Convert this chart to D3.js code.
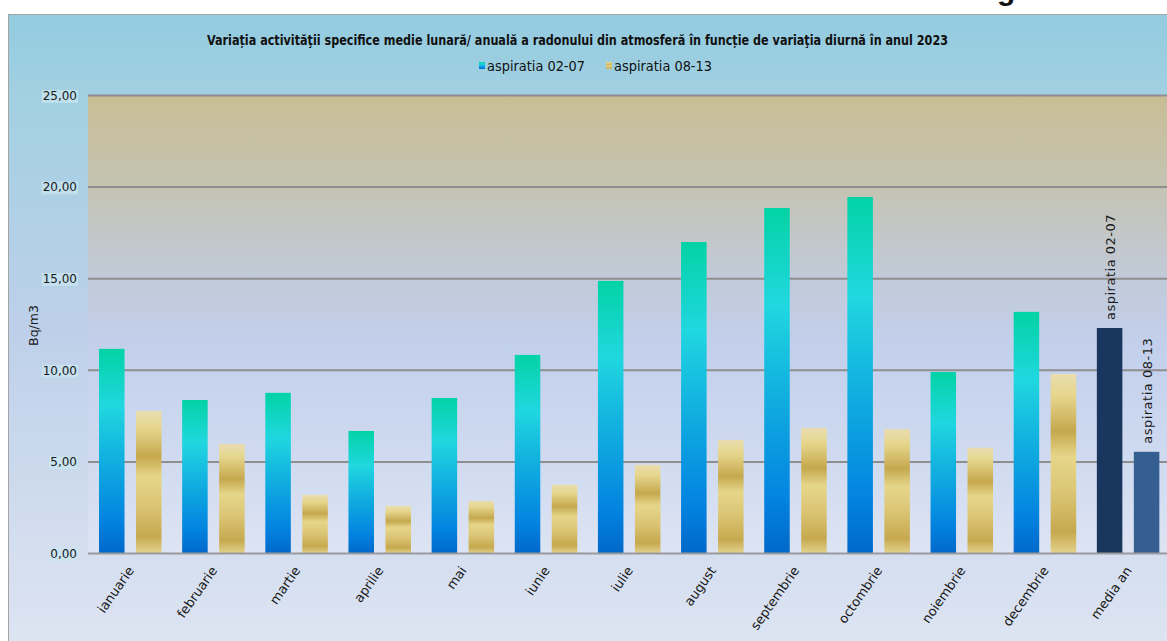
<!DOCTYPE html>
<html>
<head>
<meta charset="utf-8">
<script src="https://cdn.jsdelivr.net/npm/d3@7"></script>
<style>
  html, body { margin: 0; padding: 0; background: #ffffff; overflow: hidden; }
  svg { display: block; }
</style>
</head>
<body>
<script>
// ---- data ----
const categories = ["ianuarie", "februarie", "martie", "aprilie", "mai", "iunie", "iulie",
  "august", "septembrie", "octombrie", "noiembrie", "decembrie", "media an"];
const seriesNames = ["aspiratia 02-07", "aspiratia 08-13"];
const asp0207 = [11.17, 8.38, 8.77, 6.69, 8.49, 10.84, 14.88, 17.00, 18.86, 19.46, 9.91, 13.19, 12.31];
const asp0813 = [7.78, 5.98, 3.20, 2.60, 2.87, 3.75, 4.84, 6.20, 6.86, 6.79, 5.77, 9.80, 5.55];
const yTicks = [0, 5, 10, 15, 20, 25];
const titleText = "Variația activităţii specifice medie lunară/ anuală a radonului din atmosferă în funcție de variaţia diurnă în anul 2023";
const yAxisTitle = "Bq/m3";

const W = 1167, H = 641;
const svg = d3.select("body").append("svg").attr("width", W).attr("height", H);
const defs = svg.append("defs");

function grad(id, stops) {
  const g = defs.append("linearGradient").attr("id", id)
    .attr("x1", 0).attr("y1", 0).attr("x2", 0).attr("y2", 1);
  stops.forEach(s => g.append("stop").attr("offset", s[0]).attr("stop-color", s[1]));
}
grad("outerBg", [[0, "#93cbdf"], [0.13, "#a2d0e2"], [0.5, "#bdd0e9"], [1, "#dde4f2"]]);
grad("plotBg", [[0, "#c9bd94"], [0.2, "#c4c3b3"], [0.4, "#c1cad9"], [0.55, "#c3d0ec"], [0.8, "#d0dbf0"], [1, "#dde4f3"]]);
grad("blueBar", [[0, "#02d3a5"], [0.28, "#20d7df"], [0.55, "#11aee0"], [0.85, "#0282e0"], [1, "#0068c9"]]);
grad("goldBar", [[0, "#e8ddb0"], [0.12, "#e6d68c"], [0.32, "#c5a84e"], [0.46, "#e6d68a"], [0.65, "#dcc676"], [0.88, "#c6a94f"], [1, "#e3d38f"]]);

// outer frame
svg.append("rect").attr("x", 8).attr("y", 14).attr("width", W - 8).attr("height", H - 14)
  .attr("fill", "url(#outerBg)");
svg.append("line").attr("x1", 8.5).attr("x2", 8.5).attr("y1", 14).attr("y2", H)
  .attr("stroke", "#a4a4a4").attr("stroke-width", 1);
svg.append("line").attr("x1", 8).attr("x2", W).attr("y1", 14.5).attr("y2", 14.5)
  .attr("stroke", "#a4a4a4").attr("stroke-width", 1);

// cut-off heading fragment at top (as in the reference)
svg.append("text").attr("x", 997).attr("y", 0)
  .attr("font-family", "Liberation Sans, Arial, sans-serif").attr("font-weight", "bold")
  .attr("font-size", 30).attr("fill", "#111").text("g");

// scales
const plotL = 88, plotR = 1169, plotT = 95.5, plotB = 553.5;
const x0 = d3.scaleBand().domain(categories).range([plotL, plotR]).paddingInner(0).paddingOuter(0);
const x1 = d3.scaleBand().domain(seriesNames).range([11, 73.5]).paddingInner(0.31).paddingOuter(0);
const y = d3.scaleLinear().domain([0, 25]).range([plotB, plotT]);

// plot background
svg.append("rect").attr("x", plotL).attr("y", y(25)).attr("width", plotR - plotL)
  .attr("height", y(0) - y(25)).attr("fill", "url(#plotBg)");

// gridlines
svg.append("g").selectAll("line").data(yTicks.filter(d => d > 0)).join("line")
  .attr("x1", plotL).attr("x2", plotR).attr("y1", d => y(d)).attr("y2", d => y(d))
  .attr("stroke", "#8e8e8e").attr("stroke-width", 2);

// y axis labels
const fmt = d => d3.format(".2f")(d).replace(".", ",");
const yAxis = d3.axisLeft(y).tickValues(yTicks).tickFormat(fmt).tickSize(0).tickPadding(11);
const yg = svg.append("g").attr("transform", `translate(${plotL},0)`).call(yAxis);
yg.select(".domain").remove();
yg.selectAll("text").attr("font-family", "DejaVu Sans, sans-serif").attr("font-size", 12)
  .attr("fill", "#1a1a1a");
yg.selectAll(".tick").each(function () {
  const t = d3.select(this).select("text");
  const bb = t.node().getBBox();
  d3.select(this).insert("rect", "text").attr("x", bb.x - 1).attr("y", bb.y + 1)
    .attr("width", bb.width + 2).attr("height", bb.height - 1)
    .attr("fill", "#c8e6f0").attr("opacity", 0.75);
});

// y axis title
svg.append("text").attr("transform", `translate(38,${(plotT + plotB) / 2 + 1}) rotate(-90)`)
  .attr("text-anchor", "middle").attr("font-family", "DejaVu Sans, sans-serif")
  .attr("font-size", 12.5).attr("fill", "#1a1a1a").text(yAxisTitle);

// bars
const rows = categories.map((c, i) => ({ cat: c, vals: [asp0207[i], asp0813[i]], last: i === categories.length - 1 }));
const solid = ["#19365e", "#365f91"];
const grads = ["url(#blueBar)", "url(#goldBar)"];
const groups = svg.append("g").selectAll("g").data(rows).join("g")
  .attr("transform", d => `translate(${x0(d.cat)},0)`);
groups.selectAll("rect").data(d => d.vals.map((v, k) => ({ v, k, last: d.last })))
  .join("rect")
  .attr("x", d => x1(seriesNames[d.k]))
  .attr("width", x1.bandwidth())
  .attr("y", d => y(d.v))
  .attr("height", d => y(0) - y(d.v))
  .attr("fill", d => d.last ? solid[d.k] : grads[d.k]);

// data labels on "media an"
const lastRow = rows[rows.length - 1];
lastRow.vals.forEach((v, k) => {
  const cx = x0(lastRow.cat) + x1(seriesNames[k]) + x1.bandwidth() / 2 + 1;
  svg.append("text")
    .attr("transform", `translate(${cx + 4},${y(v) - 8}) rotate(-90)`)
    .attr("text-anchor", "start").attr("font-family", "DejaVu Sans, sans-serif")
    .attr("font-size", 13).attr("letter-spacing", 0.5).attr("fill", "#1a1a1a")
    .text(seriesNames[k]);
});

// x axis baseline
svg.append("line").attr("x1", plotL).attr("x2", plotR).attr("y1", y(0)).attr("y2", y(0))
  .attr("stroke", "#9a9a9e").attr("stroke-width", 2);

// x labels
const xAxis = d3.axisBottom(x0).tickSize(0).tickPadding(0);
const xg = svg.append("g").attr("transform", `translate(0,${plotB})`).call(xAxis);
xg.select(".domain").remove();
xg.selectAll("text")
  .attr("font-family", "DejaVu Sans, sans-serif").attr("font-size", 13).attr("fill", "#1a1a1a")
  .attr("text-anchor", "end").attr("dy", 0)
  .attr("transform", "translate(5,17) rotate(-55)");

// title
svg.append("text").attr("x", 577.5).attr("y", 45).attr("text-anchor", "middle")
  .attr("font-family", "DejaVu Sans Condensed, DejaVu Sans, sans-serif").attr("font-stretch", "condensed")
  .attr("font-weight", "bold").attr("font-size", 14).attr("fill", "#111")
  .attr("textLength", 741).attr("lengthAdjust", "spacingAndGlyphs")
  .text(titleText);

// legend
const legendItems = [{ name: seriesNames[0], sw: 479, tx: 487, fill: "url(#blueBar)" },
  { name: seriesNames[1], sw: 606, tx: 614, fill: "url(#goldBar)" }];
const lg = svg.append("g");
legendItems.forEach(it => {
  lg.append("rect").attr("x", it.sw).attr("y", 62).attr("width", 6).attr("height", 7).attr("fill", it.fill);
  lg.append("text").attr("x", it.tx).attr("y", 70.5)
    .attr("font-family", "DejaVu Sans Condensed, DejaVu Sans, sans-serif").attr("font-stretch", "condensed")
    .attr("font-size", 14).attr("fill", "#111")
    .attr("textLength", 98).attr("lengthAdjust", "spacingAndGlyphs")
    .text(it.name);
});
</script>
</body>
</html>
